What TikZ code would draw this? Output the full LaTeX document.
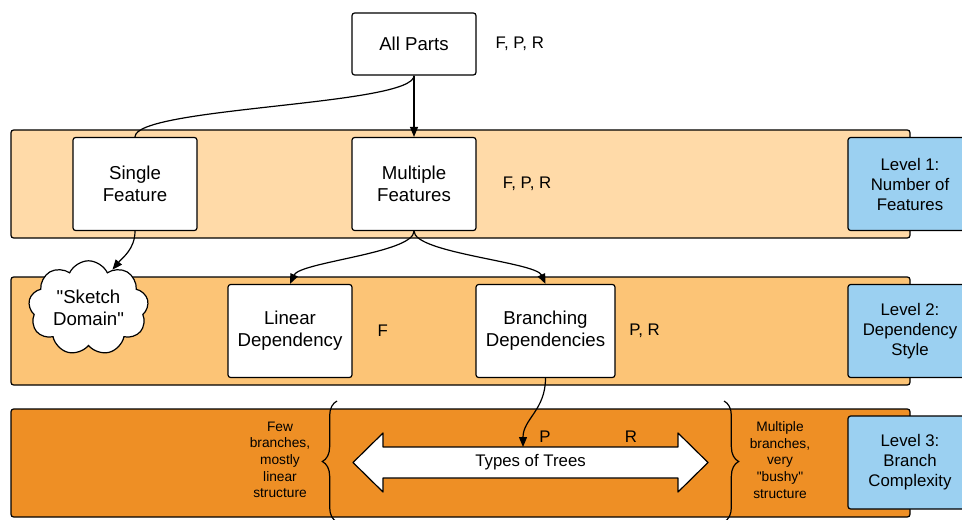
\documentclass[tikz,border=0pt]{standalone}
\usepackage{fontspec}
\setmainfont{Liberation Sans}[Ligatures=TeXOff]
\usetikzlibrary{arrows.meta,shapes.symbols,decorations.pathreplacing,positioning}

\definecolor{bandlight}{HTML}{FFDAA8}
\definecolor{bandmid}{HTML}{FCC476}
\definecolor{banddark}{HTML}{EE8F25}
\definecolor{levelblue}{HTML}{9BD0F1}

\begin{document}
\begin{tikzpicture}[x=0.75pt, y=-0.75pt, line width=0.9pt,
		>={Triangle[length=7.5pt, width=6pt]},
		every node/.style = {align=center, font=\fontsize{12.6}{15}\selectfont},
		main/.style = {draw, fill=white, rounded corners=2pt, minimum width=93pt, minimum height=69.75pt, font=\fontsize{14}{16.5}\selectfont},
		level/.style = {draw, fill=levelblue, rounded corners=2pt, minimum width=93pt, minimum height=69.75pt},
		band/.style = {draw, rounded corners=2pt},
		note/.style = {font=\fontsize{10.3}{12.5}\selectfont},
		curly/.style = {decorate, decoration={brace, amplitude=#1}}]
	\useasboundingbox (0,0) rectangle (962,520);
	
	% the three levels
	\draw[band, fill=bandlight] (11,130) rectangle (910,238);
	\draw[band, fill=bandmid] (11,277) rectangle (910,385);
	\draw[band, fill=banddark] (11,409) rectangle (910,517);
	
	\node[main, minimum height=46.5pt] (all) at (414,44) {All Parts};
	\node[right=10.5pt of all] (allfpr) {F, P, R};
	
	\node[main] (single) at (135,184) {Single\\Feature};
	\node[main] (multi) at (414,184) {Multiple\\Features};
	\node[right=16pt of multi] (multifpr) {F, P, R};
	\node[level] (lvl1) at (910,184) {Level 1:\\Number of\\Features};
	
	\node[cloud, draw, fill=white, cloud puffs=9, cloud puff arc=130, aspect=1.3, minimum width=90pt, minimum height=68pt, inner sep=0pt, font=\fontsize{14}{16.5}\selectfont] (sketch) at (88.5,308) {"Sketch\\Domain"};
	\node[main] (linear) at (290,331) {Linear\\Dependency};
	\node[right=15pt of linear] (linf) {F};
	\node[main, minimum width=104.25pt] (branch) at (545.5,331) {Branching\\Dependencies};
	\node[right=6.5pt of branch] (branchpr) {P, R};
	\node[level] (lvl2) at (910,331) {Level 2:\\Dependency\\Style};
	
	% double arrow
	\draw[fill=white, line join=round] (383,447) -- (383,433) -- (353,462.5) -- (383,492) -- (383,478)
		-- (678,478) -- (678,492) -- (708,462.5) -- (678,433) -- (678,447) -- cycle;
	\node[minimum width=221pt, minimum height=24pt, inner sep=0pt] (trees) at (530.5,462.5) {Types of Trees};
	\coordinate (treetip) at (523,447);
	\node (p) at (545,437) {P};
	\node (r) at (631,437) {R};
	\node[level] (lvl3) at (910,462.5) {Level 3:\\Branch\\Complexity};
	
	\node[note] (few) at (280,460) {Few\\branches,\\mostly\\linear\\structure};
	\node[note] (bushy) at (780,460) {Multiple\\branches,\\very\\"bushy"\\structure};
	\draw[curly=11pt] (337,522) -- (337,401);
	\draw[curly=11pt] (724,401) -- (724,522);
	
	% connectors
	\draw (all.south) .. controls +(0,30) and +(0,-30) .. (single.north);
	\draw[->] (all) -- (multi);
	\draw[->] (single.south) .. controls +(0,18) and +(10,-12) .. (sketch.58);
	\draw[->] (multi.south) .. controls +(0,22) and +(10,-22) .. (linear.north);
	\draw[->] (multi.south) .. controls +(0,22) and +(-10,-22) .. (branch.north);
	\draw[->] (branch.south) .. controls +(0,32) and +(0,-28) .. (treetip);
\end{tikzpicture}
\end{document}
